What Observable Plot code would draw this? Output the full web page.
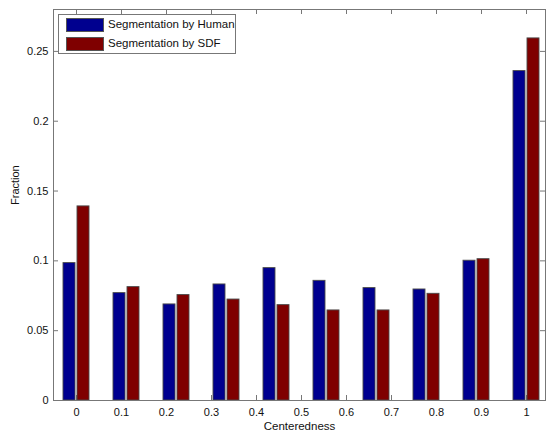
<!DOCTYPE html>
<html>
<head>
<meta charset="utf-8">
<script src="https://cdn.jsdelivr.net/npm/d3@7"></script>
<script src="https://cdn.jsdelivr.net/npm/@observablehq/plot@0.6"></script>
<style>
  html, body { margin: 0; padding: 0; background: #fff; }
  #wrap { position: relative; width: 552px; height: 433px; overflow: hidden; font-family: "Liberation Sans", Arial, Helvetica, sans-serif; }
  #wrap svg { display: block; }
  #legend { position: absolute; left: 58px; top: 14px; width: 176px; height: 38px; border: 1px solid #777; background: #fff; overflow: hidden; font-size: 11.5px; color: #111; }
  .item { position: absolute; left: 0; height: 16px; white-space: nowrap; }
  .sw { position: absolute; left: 7px; width: 38px; height: 14px; box-sizing: border-box; border: 1px solid #555; }
  .lab { position: absolute; left: 49px; top: 0; line-height: 15px; }
</style>
</head>
<body>
<div id="wrap"><div id="legend"></div></div>
<script>
// ---- data ----
const groups = ["0", "0.1", "0.2", "0.3", "0.4", "0.5", "0.6", "0.7", "0.8", "0.9"];
const human = [0.0984, 0.0769, 0.0688, 0.0831, 0.0948, 0.0857, 0.0805, 0.0795, 0.1001, 0.2359];
const sdf   = [0.1390, 0.0812, 0.0755, 0.0723, 0.0683, 0.0645, 0.0645, 0.0764, 0.1012, 0.2593];
const seriesNames = ["Segmentation by Human", "Segmentation by SDF"];
const seriesColors = ["#00008f", "#7f0000"];
const xTickLabels = ["0", "0.1", "0.2", "0.3", "0.4", "0.5", "0.6", "0.7", "0.8", "0.9", "1"];
const yTicks = [0, 0.05, 0.1, 0.15, 0.2, 0.25];
const yTickLabels = ["0", "0.05", "0.1", "0.15", "0.2", "0.25"];

// ---- build table ----
const rows = [];
groups.forEach((g, i) => {
  const pos = i + 1;
  rows.push({group: g, series: seriesNames[0], value: human[i], x1: pos - 0.26, x2: pos - 0.02});
  rows.push({group: g, series: seriesNames[1], value: sdf[i], x1: pos + 0.02, x2: pos + 0.26});
});
// tick positions: 11 labels spread evenly from first to last group
const xTickPos = xTickLabels.map((_, k) => 1 + k * (groups.length - 1) / (xTickLabels.length - 1));
const xLabelMap = new Map(xTickPos.map((p, k) => [p, xTickLabels[k]]));
const yLabelMap = new Map(yTicks.map((v, k) => [v, yTickLabels[k]]));

const W = 552, H = 433, mL = 53, mR = 7, mT = 9, mB = 33;
const innerH = H - mT - mB, innerW = W - mL - mR, tk = 5;

const chart = Plot.plot({
  width: W, height: H,
  marginLeft: mL, marginRight: mR, marginTop: mT, marginBottom: mB,
  style: {fontFamily: '"Liberation Sans", Arial, Helvetica, sans-serif', fontSize: "11px", color: "#111", background: "#fff"},
  x: {type: "linear", domain: [0.54, 10.38], axis: null},
  y: {domain: [0, 0.28], axis: null},
  color: {domain: seriesNames, range: seriesColors},
  marks: [
    // inward ticks (drawn behind bars)
    Plot.tickX(xTickPos, {x: d => d, stroke: "#777", insetTop: innerH - tk}),
    Plot.tickX(xTickPos, {x: d => d, stroke: "#777", insetBottom: innerH - tk}),
    Plot.tickY(yTicks, {y: d => d, stroke: "#777", insetRight: innerW - tk}),
    Plot.tickY(yTicks, {y: d => d, stroke: "#777", insetLeft: innerW - tk}),
    Plot.rectY(rows, {x1: "x1", x2: "x2", y: "value", fill: "series", stroke: "#4a4a4a", strokeWidth: 0.9}),
    Plot.frame({stroke: "#777"}),
    Plot.axisX(xTickPos, {tickSize: 0, tickPadding: 8, tickFormat: d => xLabelMap.get(d), label: null, fontSize: 11}),
    Plot.axisY(yTicks, {tickSize: 0, tickPadding: 5, tickFormat: d => yLabelMap.get(d), label: null, fontSize: 11}),
    Plot.text(["Centeredness"], {frameAnchor: "bottom", dy: 21, lineAnchor: "top", fontSize: 11.5}),
    Plot.text(["Fraction"], {frameAnchor: "left", dx: -38, rotate: -90, fontSize: 11})
  ]
});
document.getElementById("wrap").prepend(chart);

// legend
const legend = document.getElementById("legend");
seriesNames.forEach((name, i) => {
  const item = document.createElement("div");
  item.className = "item";
  item.style.top = (2 + i * 19) + "px";
  const sw = document.createElement("div");
  sw.className = "sw";
  sw.style.background = seriesColors[i];
  sw.style.top = "1px";
  const lab = document.createElement("div");
  lab.className = "lab";
  lab.textContent = name;
  item.appendChild(sw); item.appendChild(lab);
  legend.appendChild(item);
});
</script>
</body>
</html>
